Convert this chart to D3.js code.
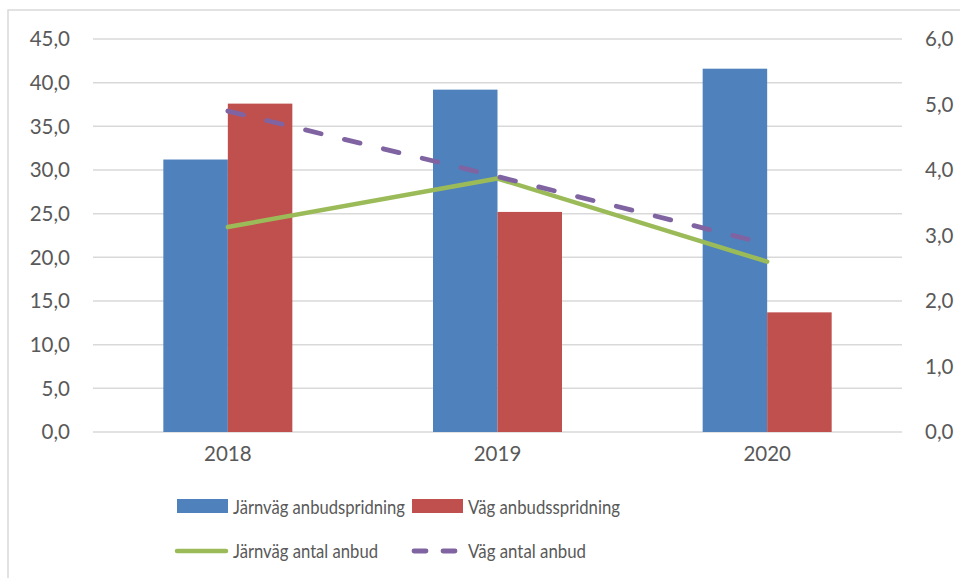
<!DOCTYPE html>
<html>
<head>
<meta charset="utf-8">
<script src="https://cdn.jsdelivr.net/npm/d3@7"></script>
<style>
  body { margin: 0; background: #fff; }
  text { font-family: Lato, "Open Sans", sans-serif; fill: #595959; }
</style>
</head>
<body>
<script>
const years = ['2018', '2019', '2020']
const railSpread = [31.2, 39.2, 41.6]
const roadSpread = [37.6, 25.2, 13.7]
const railBids = [3.13, 3.87, 2.6]
const roadBids = [4.9, 3.9, 2.87]
const leftTicks = [0, 5, 10, 15, 20, 25, 30, 35, 40, 45]
const rightTicks = [0, 1, 2, 3, 4, 5, 6]
const legendNames = ['Järnväg anbudspridning', 'Väg anbudsspridning', 'Järnväg antal anbud', 'Väg antal anbud']

const w = 960
const h = 578
const plotLeft = 93
const plotRight = 902
const plotTop = 39
const plotBottom = 432

const blue = '#4F81BD'
const red = '#C0504D'
const green = '#9BBB59'
const purple = '#8064A2'

const svg = d3.select('body').append('svg')
    .attr('width', w)
    .attr('height', h)

// chart frame
svg.append('rect')
    .attr('x', 8)
    .attr('y', 10)
    .attr('width', 1000)
    .attr('height', 1000)
    .attr('fill', 'none')
    .attr('stroke', '#D9D9D9')
    .attr('stroke-width', 1.5)

const x = d3.scaleBand()
    .domain(years)
    .range([plotLeft, plotRight])

const inner = d3.scaleBand()
    .domain(['rail', 'road'])
    .range([0, 129])

const yLeft = d3.scaleLinear().domain([0, 45]).range([plotBottom, plotTop])
const yRight = d3.scaleLinear().domain([0, 6]).range([plotBottom, plotTop])

const fmt = d => d.toFixed(1).replace('.', ',')

// gridlines
svg.append('g').selectAll('line')
    .data(leftTicks)
    .enter()
    .append('line')
    .attr('x1', plotLeft)
    .attr('x2', plotRight)
    .attr('y1', d => yLeft(d))
    .attr('y2', d => yLeft(d))
    .attr('stroke', '#D9D9D9')
    .attr('stroke-width', 1.5)

svg.append('g').selectAll('text')
    .data(leftTicks)
    .enter()
    .append('text')
    .attr('x', 70)
    .attr('y', d => yLeft(d))
    .attr('dy', '0.36em')
    .attr('text-anchor', 'end')
    .attr('font-size', 20.5)
    .text(fmt)

svg.append('g').selectAll('text')
    .data(rightTicks)
    .enter()
    .append('text')
    .attr('x', 925)
    .attr('y', d => yRight(d))
    .attr('dy', '0.36em')
    .attr('font-size', 20.5)
    .text(fmt)

svg.append('g').selectAll('text')
    .data(years)
    .enter()
    .append('text')
    .attr('x', d => x(d) + x.bandwidth() / 2)
    .attr('y', 461)
    .attr('text-anchor', 'middle')
    .attr('font-size', 20.5)
    .text(d => d)

// bars
const groupOffset = (x.bandwidth() - 129) / 2
const bars = svg.append('g')

bars.selectAll('.rail')
    .data(years)
    .enter()
    .append('rect')
    .attr('class', 'rail')
    .attr('x', d => x(d) + groupOffset + inner('rail'))
    .attr('y', (d, i) => yLeft(railSpread[i]))
    .attr('width', inner.bandwidth())
    .attr('height', (d, i) => plotBottom - yLeft(railSpread[i]))
    .attr('fill', blue)

bars.selectAll('.road')
    .data(years)
    .enter()
    .append('rect')
    .attr('class', 'road')
    .attr('x', d => x(d) + groupOffset + inner('road'))
    .attr('y', (d, i) => yLeft(roadSpread[i]))
    .attr('width', inner.bandwidth())
    .attr('height', (d, i) => plotBottom - yLeft(roadSpread[i]))
    .attr('fill', red)

// lines
const line = d3.line()
    .x((d, i) => x(years[i]) + x.bandwidth() / 2)
    .y(d => yRight(d))

svg.append('path')
    .attr('d', line(railBids))
    .attr('fill', 'none')
    .attr('stroke', green)
    .attr('stroke-width', 4.5)
    .attr('stroke-linecap', 'round')
    .attr('stroke-linejoin', 'round')

svg.append('path')
    .attr('d', line(roadBids))
    .attr('fill', 'none')
    .attr('stroke', purple)
    .attr('stroke-width', 4.8)
    .attr('stroke-linecap', 'round')
    .attr('stroke-dasharray', '16,24')

// legend
const legend = svg.append('g')

legend.append('rect')
    .attr('x', 177).attr('y', 499).attr('width', 51).attr('height', 14)
    .attr('fill', blue)
legend.append('rect')
    .attr('x', 412).attr('y', 499).attr('width', 51).attr('height', 14)
    .attr('fill', red)
legend.append('line')
    .attr('x1', 177).attr('x2', 226).attr('y1', 551).attr('y2', 551)
    .attr('stroke', green).attr('stroke-width', 4.5).attr('stroke-linecap', 'round')
legend.append('line')
    .attr('x1', 414).attr('x2', 458).attr('y1', 551).attr('y2', 551)
    .attr('stroke', purple).attr('stroke-width', 4.8).attr('stroke-linecap', 'round')
    .attr('stroke-dasharray', '12,17')

const legendPos = [[233, 507, 172], [468, 507, 152], [233, 551, 145], [468, 551, 118]]

legend.selectAll('text')
    .data(legendNames)
    .enter()
    .append('text')
    .attr('x', (d, i) => legendPos[i][0])
    .attr('y', (d, i) => legendPos[i][1])
    .attr('dy', '0.36em')
    .attr('font-size', 20)
    .attr('textLength', (d, i) => legendPos[i][2])
    .attr('lengthAdjust', 'spacingAndGlyphs')
    .text(d => d)
</script>
</body>
</html>
